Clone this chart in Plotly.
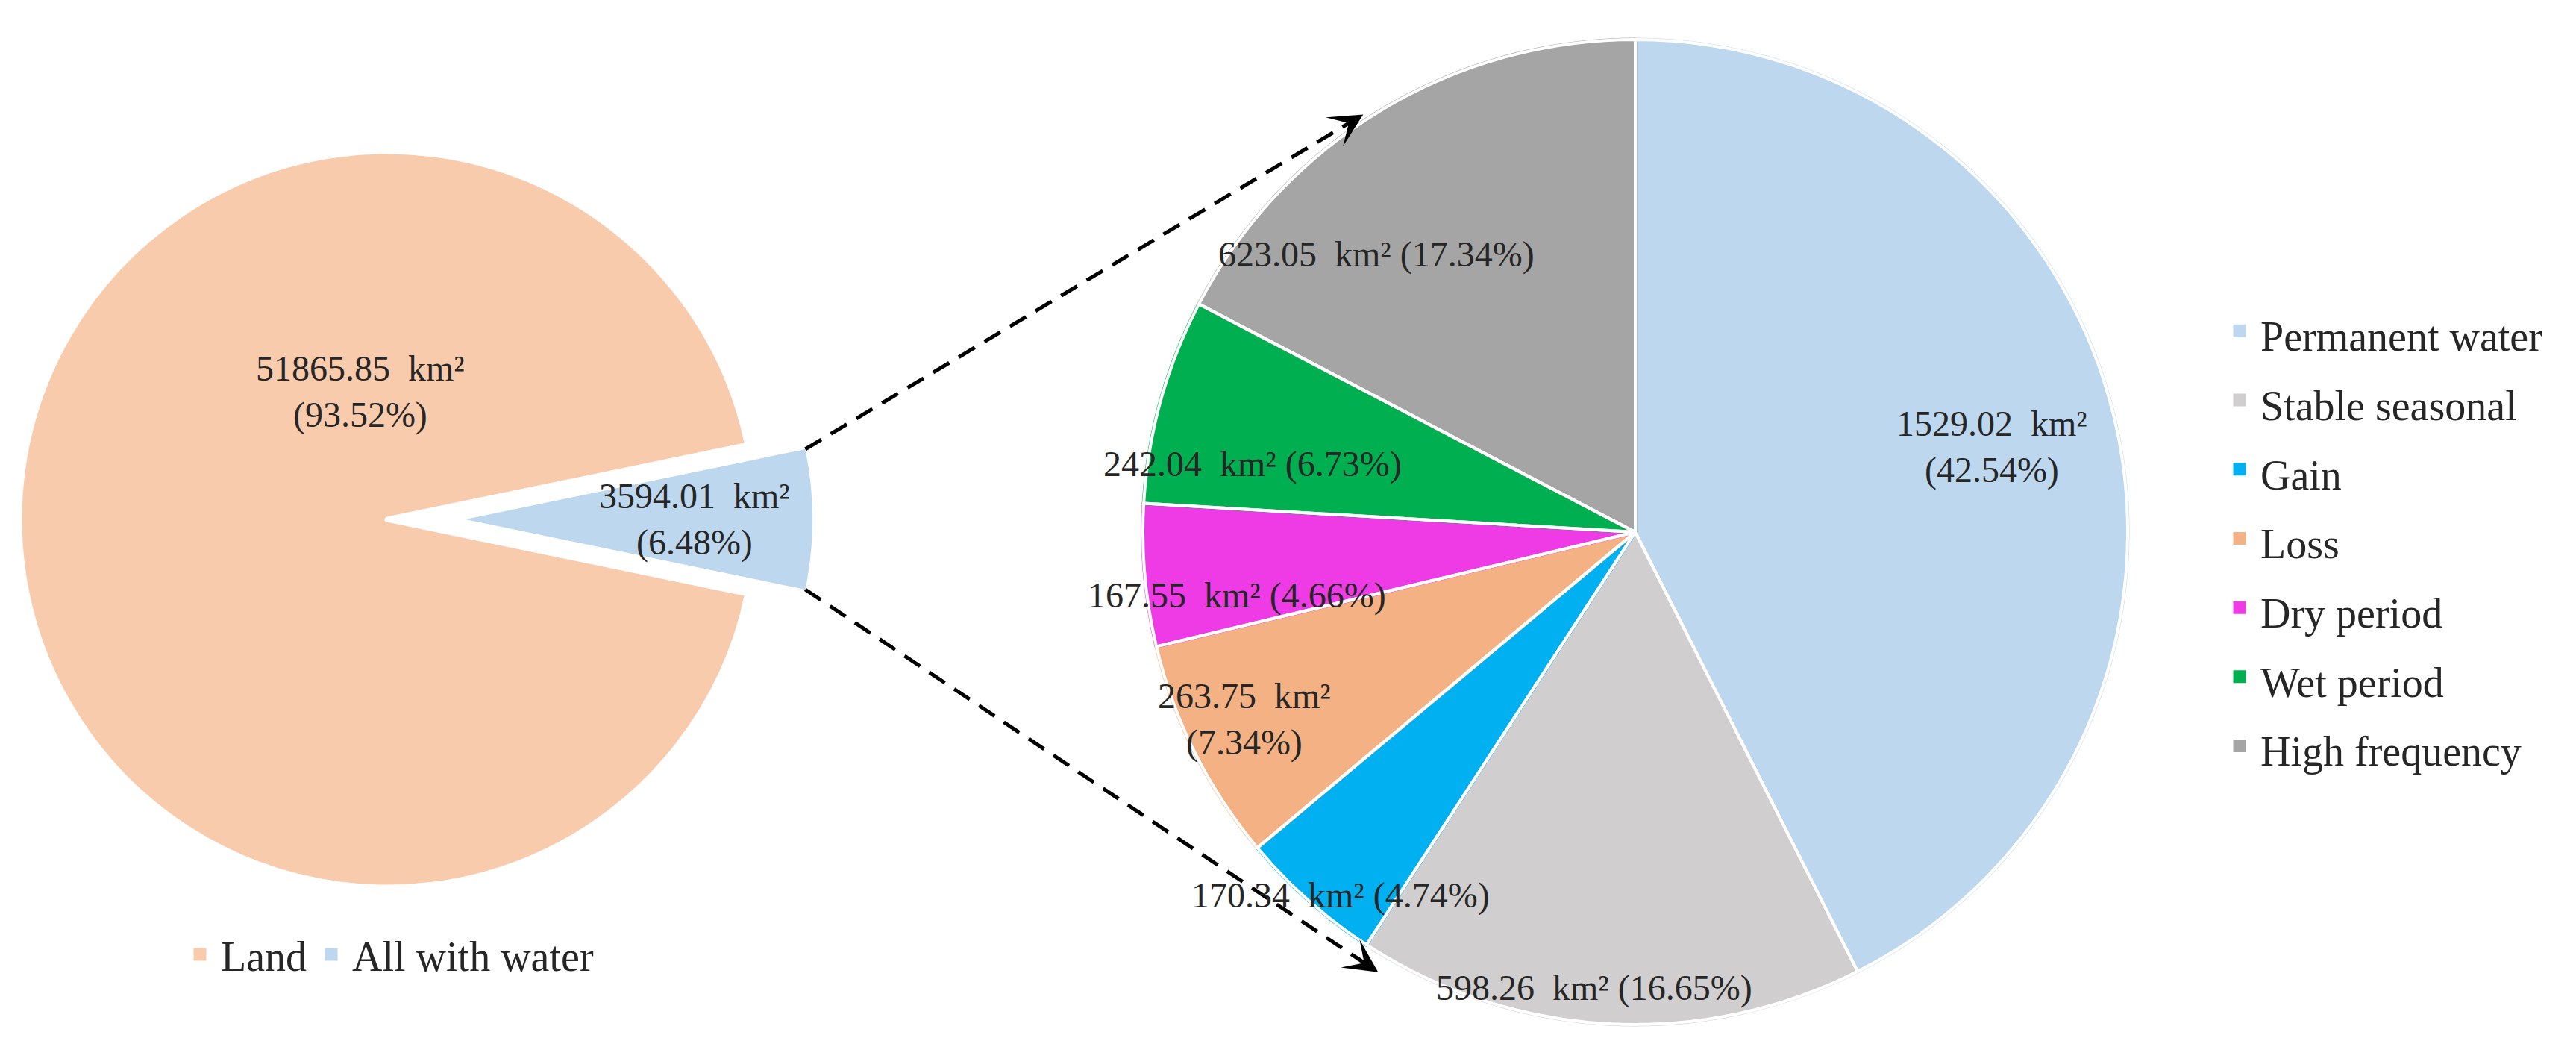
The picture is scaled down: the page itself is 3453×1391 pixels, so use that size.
import math
import plotly.graph_objects as go

# ---------------- data ----------------
outer_labels = ["Land", "All with water"]
outer_values = [51865.85, 3594.01]

water_labels = ["Permanent water", "Stable seasonal", "Gain", "Loss",
                "Dry period", "Wet period", "High frequency"]
water_values = [1529.02, 598.26, 170.34, 263.75, 167.55, 242.04, 623.05]

# ---------------- style ----------------
outer_colors = ["#F8CBAD", "#BDD7EE"]
water_colors = ["#BDD7EE", "#D0CECE", "#00B0F0", "#F4B183",
                "#EE3BE6", "#00B050", "#A5A5A5"]
FONT = "Liberation Serif, Times New Roman, serif"
TXT = "#262626"
CLEAR = "rgba(0,0,0,0)"

W, H = 3453, 1391
LEFT_C, LEFT_R = (511, 688), 487      # land pie (px)
PULL_C, PULL_R = (616, 688), 465      # exploded water slice (px)
RIGHT_C, RIGHT_R = (2184, 705), 660   # breakdown pie (px)

# label placement: (angle offset from slice middle in deg, radius fraction, two-line?)
outer_lab_style = [(78, 0.36, True), (0, 0.66, True)]
water_lab_style = [(0, 0.745, True), (2, 0.93, False), (-2.6, 0.95, False),
                   (1, 0.88, True), (-4, 0.82, False), (-5.4, 0.79, False),
                   (-11.8, 0.77, False)]


def domain(c, r):
    return dict(x=[(c[0] - r) / W, (c[0] + r) / W],
                y=[1 - (c[1] + r) / H, 1 - (c[1] - r) / H])


def polar(c, r, ang):
    a = math.radians(ang)
    return (c[0] + r * math.sin(a), c[1] - r * math.cos(a))


def to_paper(p):
    return p[0] / W, 1 - p[1] / H


def fmt(v, tot, two):
    sep = "<br>" if two else " "
    return f"{v:.2f}\u2002km\u00b2{sep}({100 * v / tot:.2f}%)"


tot_out = sum(outer_values)
tot_w = sum(water_values)
water_deg = 360 * outer_values[1] / tot_out
land_deg = 360 * outer_values[0] / tot_out
land_rot = 90 - water_deg / 2 - land_deg + 360   # water centred at 3 o'clock

fig = go.Figure()

# land pie (its water slice gives the legend entry; it is covered below)
fig.add_trace(go.Pie(
    labels=outer_labels, values=outer_values, sort=False, direction="clockwise",
    rotation=land_rot,
    marker=dict(colors=outer_colors, line=dict(color=outer_colors, width=5)),
    textinfo="none", domain=domain(LEFT_C, LEFT_R), legend="legend2",
    hoverinfo="label+value+percent"))
# cover the un-pulled water position
fig.add_trace(go.Pie(
    labels=["land_gap", "water_gap"], values=outer_values, sort=False,
    direction="clockwise", rotation=land_rot,
    marker=dict(colors=[CLEAR, "white"], line=dict(color=[CLEAR, "white"], width=[0, 7])),
    textinfo="none", domain=domain(LEFT_C, LEFT_R), showlegend=False,
    hoverinfo="skip"))
# exploded water slice
fig.add_trace(go.Pie(
    labels=["All with water ", "Land "], values=[outer_values[1], outer_values[0]],
    sort=False, direction="clockwise", rotation=90 - water_deg / 2,
    marker=dict(colors=[outer_colors[1], CLEAR], line=dict(width=0)),
    textinfo="none", domain=domain(PULL_C, PULL_R), showlegend=False,
    hoverinfo="skip"))
# breakdown pie (legend line height set by the legend font, glyphs a little smaller)
legend_labels = [f"<span style='font-size:56px'>{l}</span>" for l in water_labels]
fig.add_trace(go.Pie(
    labels=legend_labels, values=water_values, sort=False, direction="clockwise",
    rotation=0, marker=dict(colors=water_colors, line=dict(color=water_colors, width=5)),
    textinfo="none", domain=domain(RIGHT_C, RIGHT_R), legend="legend",
    hovertext=water_labels, hoverinfo="text+value+percent"))
# white separators on the breakdown pie
fig.add_trace(go.Pie(
    labels=[f"sep{i}" for i in range(len(water_values))], values=water_values,
    sort=False, direction="clockwise", rotation=0,
    marker=dict(colors=[CLEAR] * len(water_values), line=dict(color="white", width=4)),
    textinfo="none", domain=domain(RIGHT_C, RIGHT_R), showlegend=False,
    hoverinfo="skip"))

annotations = []
lab_font = dict(family=FONT, size=48, color=TXT)
# left labels
cum = land_rot
mids = []
for v in outer_values:
    d = 360 * v / tot_out
    mids.append(cum + d / 2)
    cum += d
for i, (v, (da, fr, two)) in enumerate(zip(outer_values, outer_lab_style)):
    c, r = (LEFT_C, LEFT_R) if i == 0 else (PULL_C, PULL_R)
    x, y = to_paper(polar(c, r * fr, mids[i] + da))
    annotations.append(dict(x=x, y=y, xref="paper", yref="paper", showarrow=False,
                            xanchor="center", yanchor="middle",
                            text=fmt(v, tot_out, two), font=lab_font))
# right labels
cum = 0
for v, (da, fr, two) in zip(water_values, water_lab_style):
    d = 360 * v / tot_w
    x, y = to_paper(polar(RIGHT_C, RIGHT_R * fr, cum + d / 2 + da))
    cum += d
    annotations.append(dict(x=x, y=y, xref="paper", yref="paper", showarrow=False,
                            xanchor="center", yanchor="middle",
                            text=fmt(v, tot_w, two), font=lab_font))

# dashed connector arrows from the exploded slice to the breakdown pie
shapes = []
arrow_targets = [(326.9, 1.012), (210.3, 1.035)]
starts = [90 - water_deg / 2, 90 + water_deg / 2]
for s_ang, (t_ang, t_fr) in zip(starts, arrow_targets):
    p0 = polar(PULL_C, PULL_R, s_ang)
    p1 = polar(RIGHT_C, RIGHT_R * t_fr, t_ang)
    dx, dy = p1[0] - p0[0], p1[1] - p0[1]
    L = math.hypot(dx, dy)
    ux, uy = dx / L, dy / L
    pe = (p1[0] - ux * 30, p1[1] - uy * 30)
    x0, y0 = to_paper(p0)
    x1, y1 = to_paper(pe)
    shapes.append(dict(type="line", xref="paper", yref="paper", x0=x0, y0=y0,
                       x1=x1, y1=y1, line=dict(color="black", width=5, dash="25px,15px")))
    xt, yt = to_paper(p1)
    annotations.append(dict(x=xt, y=yt, xref="paper", yref="paper", text="",
                            showarrow=True, arrowhead=3, arrowsize=1.5, arrowwidth=5,
                            arrowcolor="black", ax=-ux * 34, ay=-uy * 34))

fig.update_layout(
    width=W, height=H, margin=dict(l=0, r=0, t=0, b=0),
    paper_bgcolor="white", plot_bgcolor="white",
    font=dict(family=FONT, color=TXT),
    annotations=annotations, shapes=shapes,
    legend=dict(x=2966 / W, xanchor="left", y=1 - 384 / H, yanchor="top",
                itemwidth=46, font=dict(family=FONT, size=69, color=TXT),
                bgcolor=CLEAR, traceorder="normal"),
    legend2=dict(orientation="h", x=232 / W, xanchor="left", y=1 - 1228 / H,
                 yanchor="top", itemwidth=46,
                 font=dict(family=FONT, size=56, color=TXT), bgcolor=CLEAR),
)

fig.write_html("out.html")
